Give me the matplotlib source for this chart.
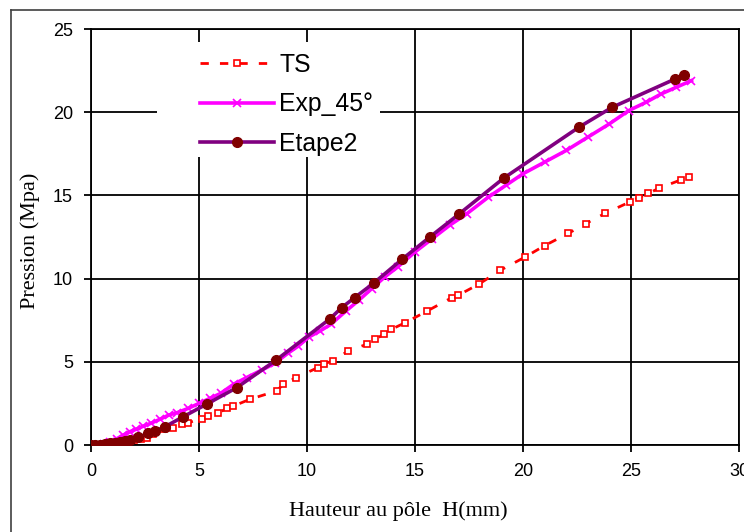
import matplotlib
matplotlib.use("Agg")
import matplotlib.pyplot as plt
from matplotlib.patches import Rectangle
from matplotlib.lines import Line2D

# ---- data ----
ts_h = [0, 0.5, 1.0, 1.5, 2.0, 2.3, 2.58, 2.88, 3.4, 3.81, 4.2, 4.5, 5.12, 5.43, 5.9, 6.3,
        6.59, 7.36, 8.6, 8.9, 9.5, 10.5, 10.8, 11.2, 11.9, 12.76, 13.16, 13.55, 13.9, 14.55,
        15.56, 16.7, 17.0, 17.95, 18.95, 20.1, 21.0, 22.1, 22.9, 23.8, 24.97, 25.35, 25.8,
        26.3, 27.3, 27.7]
ts_p = [0, 0.02, 0.08, 0.18, 0.28, 0.36, 0.44, 0.64, 0.95, 1.04, 1.24, 1.34, 1.58, 1.74, 1.94, 2.2,
        2.34, 2.75, 3.25, 3.65, 4.05, 4.65, 4.89, 5.05, 5.65, 6.05, 6.35, 6.65, 6.95, 7.35,
        8.05, 8.85, 9.0, 9.66, 10.5, 11.3, 11.98, 12.72, 13.3, 13.92, 14.62, 14.86, 15.12,
        15.43, 15.93, 16.09]

exp_h = [0, 0.3, 0.6, 0.9, 1.2, 1.5, 1.8, 2.1, 2.4, 2.8, 3.2, 3.6, 4.0, 4.5, 5.0, 5.5, 6.0, 6.6,
         7.2, 7.9, 8.5, 9.1, 9.6, 10.1, 10.6, 11.1, 11.8, 12.4, 13.0, 13.6, 14.2, 15.0, 15.8,
         16.6, 17.4, 18.4, 19.2, 20.0, 21.0, 22.0, 23.0, 24.0, 24.9, 25.7, 26.4, 27.1, 27.8]
exp_p = [0, 0.02, 0.08, 0.2, 0.38, 0.6, 0.8, 0.95, 1.12, 1.32, 1.55, 1.8, 1.95, 2.2, 2.5, 2.8,
         3.1, 3.65, 4.05, 4.5, 4.9, 5.5, 5.95, 6.5, 6.85, 7.25, 8.05, 8.7, 9.4, 10.1, 10.7,
         11.6, 12.4, 13.2, 13.9, 14.9, 15.6, 16.3, 17.0, 17.7, 18.5, 19.3, 20.1, 20.6, 21.1,
         21.5, 21.9]

et_h = [0, 0.2, 0.42, 0.65, 0.88, 1.1, 1.34, 1.57, 1.8, 2.19, 2.65, 2.96, 3.43, 4.27, 5.36,
        6.74, 8.56, 11.07, 11.6, 12.2, 13.1, 14.4, 15.71, 17.02, 19.1, 22.58, 24.12, 27.05,
        27.44]
et_p = [0, 0, 0, 0.05, 0.1, 0.15, 0.2, 0.25, 0.3, 0.46, 0.7, 0.84, 1.1, 1.7, 2.46,
        3.44, 5.09, 7.59, 8.25, 8.85, 9.74, 11.16, 12.52, 13.86, 16.03, 19.09, 20.29, 22.0,
        22.24]

labels = ["TS", "Exp_45°", "Etape2"]
xticks = [0, 5, 10, 15, 20, 25, 30]
yticks = [0, 5, 10, 15, 20, 25]

W, H = 744, 532
fig = plt.figure(figsize=(W / 100, H / 100), dpi=100)
fig.patch.set_facecolor("white")

def fx(px):
    return px / W

def fy(py):
    return 1 - py / H

# outer chart border
fig.add_artist(Line2D([fx(11), fx(11)], [fy(10), fy(540)], color="#404040", lw=1.2))
fig.add_artist(Line2D([fx(11), fx(750)], [fy(10), fy(10)], color="#404040", lw=1.2))

ax = fig.add_axes([fx(91), fy(445), (739 - 91) / W, (445 - 29) / H])
ax.set_xlim(0, 30)
ax.set_ylim(0, 25)
ax.set_xticks(xticks)
ax.set_yticks(yticks)
ax.grid(True, color="black", lw=1.3)
ax.set_axisbelow(True)
for s in ax.spines.values():
    s.set_color("black")
    s.set_linewidth(1.3)

ax.tick_params(axis="both", direction="out", length=5, width=1.3, color="black", pad=8,
               labelsize=13)
for lab in ax.get_xticklabels() + ax.get_yticklabels():
    lab.set_family("Liberation Sans")

ax.plot(ts_h, ts_p, color="#FF0000", lw=2, ls=(0, (3, 4)), marker="s", ms=4.5,
        mfc="white", mec="#FF0000", mew=1.2, label=labels[0], zorder=3)
ax.plot(exp_h, exp_p, color="#FF00FF", lw=2.6, marker="x", ms=6, mew=1.2,
        mec="#FF00FF", label=labels[1], zorder=4)
ax.plot(et_h, et_p, color="#800080", lw=2.6, marker="o", ms=7,
        mfc="#800000", mec="#800000", label=labels[2], zorder=5)

# white area behind legend (inside axes, above grid)
ax.add_patch(Rectangle((fx(157), fy(157)), (380 - 157) / W, (157 - 42) / H,
                       transform=fig.transFigure, facecolor="white", edgecolor="none",
                       zorder=1, clip_on=False))

leg = ax.legend(loc="upper left", bbox_to_anchor=(fx(200), fy(53)),
                bbox_transform=fig.transFigure, frameon=False, borderaxespad=0,
                borderpad=0, handlelength=3.0, handletextpad=0.2, labelspacing=0.62,
                prop={"family": "Liberation Sans", "size": 17.8})
leg.set_zorder(6)

ax.set_xlabel("Hauteur au pôle  H(mm)", family="Liberation Serif", fontsize=16)
ax.set_ylabel("Pression (Mpa)", family="Liberation Serif", fontsize=16)
ax.xaxis.set_label_coords((398 - 91) / 648, (445 - 511) / 416)
ax.yaxis.set_label_coords((30 - 91) / 648, (445 - 241) / 416)
ax.xaxis.label.set_va("center")
ax.yaxis.label.set_va("center")

fig.savefig("out.png", dpi=100)
